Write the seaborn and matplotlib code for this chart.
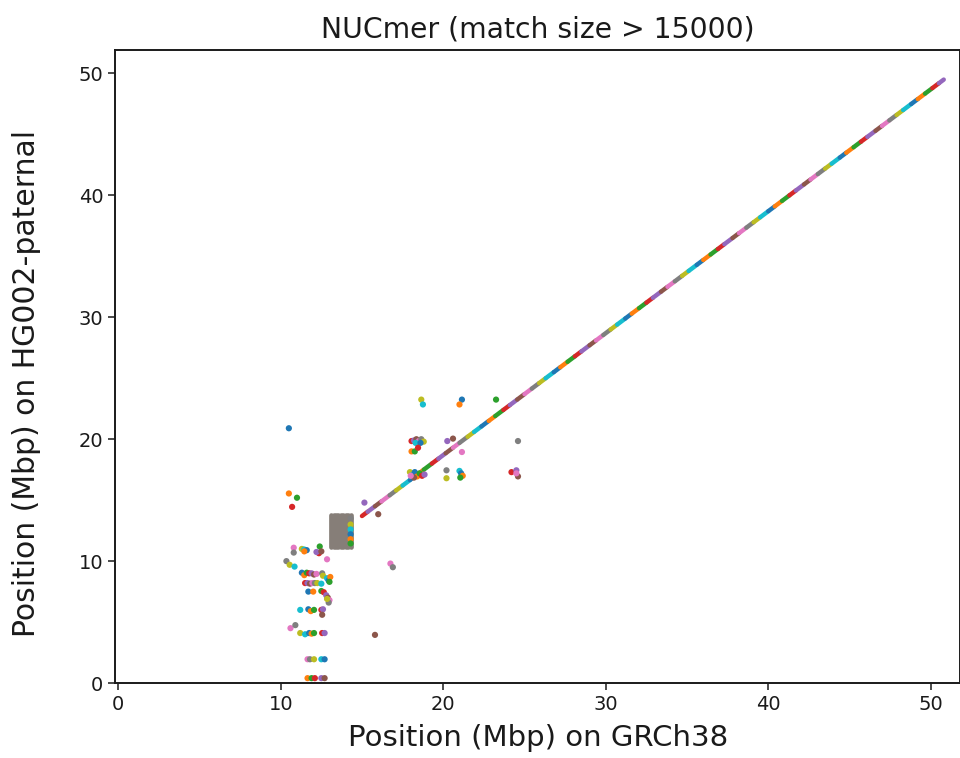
import matplotlib
matplotlib.use("Agg")
import matplotlib.pyplot as plt
import seaborn as sns
import pandas as pd

# ---------------- data (Mbp) ----------------
# main diagonal: consecutive match breakpoints
diag_x = [15.0, 15.35, 15.8, 16.2, 16.7, 17.1, 17.5, 17.95, 18.4, 18.8, 19.3, 19.7, 20.15,
          20.6, 21.0, 21.5, 21.9, 22.35, 22.8, 23.2, 23.7, 24.1, 24.55, 25.0, 25.45, 25.9,
          26.3, 26.8, 27.2, 27.65, 28.1, 28.5, 29.0, 29.4, 29.85, 30.3, 30.7, 31.2, 31.6,
          32.05, 32.5, 32.9, 33.4, 33.8, 34.25, 34.7, 35.1, 35.6, 36.0, 36.45, 36.9, 37.3,
          37.8, 38.2, 38.65, 39.1, 39.5, 40.0, 40.4, 40.85, 41.3, 41.7, 42.2, 42.6, 43.05,
          43.5, 43.9, 44.4, 44.8, 45.25, 45.7, 46.1, 46.6, 47.0, 47.45, 47.9, 48.3, 48.8,
          49.2, 49.65, 50.1, 50.5, 50.8]
diag_y = [13.7, 14.05, 14.5, 14.9, 15.4, 15.8, 16.2, 16.65, 17.1, 17.5, 18.0, 18.4, 18.85,
          19.3, 19.7, 20.2, 20.6, 21.05, 21.5, 21.9, 22.4, 22.8, 23.25, 23.7, 24.15, 24.6,
          25.0, 25.5, 25.9, 26.35, 26.8, 27.2, 27.7, 28.1, 28.55, 29.0, 29.4, 29.9, 30.3,
          30.75, 31.2, 31.6, 32.1, 32.5, 32.95, 33.4, 33.8, 34.3, 34.7, 35.15, 35.6, 36.0,
          36.5, 36.9, 37.35, 37.8, 38.2, 38.7, 39.1, 39.55, 40.0, 40.4, 40.9, 41.3, 41.75,
          42.2, 42.6, 43.1, 43.5, 43.95, 44.4, 44.8, 45.3, 45.7, 46.15, 46.6, 47.0, 47.5,
          47.9, 48.35, 48.8, 49.2, 49.5]

# dense repeat block (columns of overlapping matches)
block_x = [13.1, 13.25, 13.4, 13.55, 13.7, 13.85, 14.0, 14.15, 14.3]
block_y_lo = 11.15
block_y_hi = 13.8

# short off-diagonal matches (drawn as dots)
dot_x = [10.5, 10.5, 11.0, 10.7, 15.15, 16.0,
         10.8, 10.8, 11.3, 11.45, 11.6, 11.45, 12.4, 12.35, 12.2, 12.5, 12.85,
         10.35, 10.55, 10.85,
         11.3, 11.45, 11.6, 11.75, 11.9, 12.05, 12.2, 12.55, 12.6,
         12.85, 12.95, 13.05, 13.0,
         11.5, 11.65, 11.8, 11.95, 12.1, 12.25, 12.5,
         11.7, 12.0, 12.5, 12.65,
         12.8, 12.9, 13.0, 12.95, 12.85,
         11.2, 11.7, 11.85, 12.05, 12.5, 12.6, 12.55,
         10.6, 10.9,
         11.2, 11.5, 11.75, 11.9, 12.05, 12.55, 12.7,
         15.8,
         11.65, 11.8, 12.05, 12.5, 12.7,
         11.65, 11.9, 12.1, 12.5, 12.7,
         16.75, 16.9,
         18.65, 18.75, 21.15, 21.0, 23.25,
         18.05, 18.2, 18.35, 18.5, 18.65, 18.8, 18.3, 18.6,
         18.05, 18.25, 18.45, 20.25, 20.6, 21.15, 24.6,
         17.95, 18.1, 18.25, 18.4, 18.55, 18.7, 18.85, 18.2, 18.0,
         20.2, 20.2, 21.0, 21.1, 21.2, 21.05,
         24.2, 24.5, 24.6, 24.5,
         14.3, 14.3, 14.3, 14.3, 14.3, 14.3]
dot_y = [20.9, 15.55, 15.2, 14.45, 14.8, 13.85,
         11.1, 10.7, 11.0, 10.95, 10.9, 10.8, 11.2, 10.65, 10.75, 10.8, 10.15,
         10.0, 9.7, 9.55,
         9.05, 8.85, 9.05, 9.0, 9.0, 8.9, 8.95, 9.0, 8.8,
         8.6, 8.4, 8.7, 8.3,
         8.2, 8.2, 8.15, 8.2, 8.2, 8.2, 8.15,
         7.5, 7.5, 7.55, 7.45,
         7.2, 7.0, 6.8, 6.6, 6.9,
         6.0, 6.05, 5.9, 6.0, 6.0, 6.05, 5.6,
         4.5, 4.75,
         4.1, 4.0, 4.1, 4.05, 4.1, 4.1, 4.1,
         3.95,
         1.95, 1.95, 1.95, 1.95, 1.95,
         0.4, 0.4, 0.4, 0.4, 0.4,
         9.8, 9.5,
         23.25, 22.85, 23.25, 22.85, 23.25,
         19.85, 19.9, 20.0, 19.85, 20.0, 19.8, 19.7, 19.7,
         19.0, 19.0, 19.3, 19.85, 20.05, 18.95, 19.85,
         17.3, 17.05, 17.3, 16.95, 17.2, 17.0, 17.1, 16.85, 17.0,
         17.45, 16.8, 17.4, 17.2, 17.0, 16.85,
         17.3, 17.45, 16.95, 17.2,
         13.5, 13.0, 12.6, 12.2, 11.8, 11.45]

x_ticks = [0, 10, 20, 30, 40, 50]
y_ticks = [0, 10, 20, 30, 40, 50]

title_text = "NUCmer (match size > 15000)"
x_label = "Position (Mbp) on GRCh38"
y_label = "Position (Mbp) on HG002-paternal"

# ---------------- tables ----------------
tab10 = sns.color_palette("tab10")

rows = []
for i in range(len(diag_x) - 1):
    rows.append({"seg": f"d{i}", "x": diag_x[i], "y": diag_y[i]})
    rows.append({"seg": f"d{i}", "x": diag_x[i + 1], "y": diag_y[i + 1]})
diag_df = pd.DataFrame(rows)
diag_segs = list(dict.fromkeys(diag_df["seg"]))
diag_pal = {s: tab10[(i + 3) % 10] for i, s in enumerate(diag_segs)}

brows = []
for i, bx in enumerate(block_x):
    brows.append({"col": f"b{i}", "x": bx, "y": block_y_lo})
    brows.append({"col": f"b{i}", "x": bx, "y": block_y_hi})
block_df = pd.DataFrame(brows)

dots_df = pd.DataFrame({"x": dot_x, "y": dot_y,
                        "k": [f"p{i}" for i in range(len(dot_x))]})
dot_pal = {k: tab10[i % 10] for i, k in enumerate(dots_df["k"])}

# ---------------- plot ----------------
sns.set_style("ticks")
plt.rcParams["font.family"] = ["DejaVu Sans"]

fig = plt.figure(figsize=(9.6, 7.58), dpi=100)
ax = fig.add_axes([0.1201, 0.0989, 0.8799, 0.8347])

sns.lineplot(data=block_df, x="x", y="y", units="col", estimator=None, sort=False,
             color="#867e78", linewidth=3.4, solid_capstyle="round", ax=ax, legend=False)

sns.lineplot(data=diag_df, x="x", y="y", hue="seg", palette=diag_pal, estimator=None,
             sort=False, linewidth=3.2, solid_capstyle="round", ax=ax, legend=False)

sns.scatterplot(data=dots_df, x="x", y="y", hue="k", palette=dot_pal, s=20,
                linewidth=0, ax=ax, legend=False, zorder=3)

ax.set_xlim(-0.18, 51.8)
ax.set_ylim(0, 51.9)
ax.set_xticks(x_ticks)
ax.set_yticks(y_ticks)
ax.tick_params(labelsize=14, width=1.1, length=5, colors="#1a1a1a")
for sp in ax.spines.values():
    sp.set_linewidth(1.4)
    sp.set_color("#1a1a1a")

ax.set_title(title_text, fontsize=20.3, pad=9, color="#1a1a1a")
ax.set_xlabel(x_label, fontsize=21, labelpad=7, color="#1a1a1a")
ax.set_ylabel(y_label, fontsize=21.5, color="#1a1a1a")
ax.yaxis.set_label_coords(-0.088, 0.474)

fig.savefig("out.png", dpi=100)
